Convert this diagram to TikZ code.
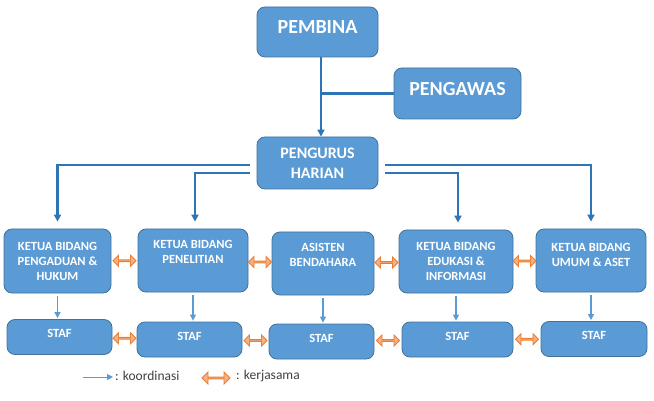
\documentclass[tikz,border=0pt]{standalone}
\usepackage{fontspec}
\setmainfont{Carlito}
\usetikzlibrary{arrows.meta, shapes.arrows, calc}

\definecolor{biru}{HTML}{5B9BD5}
\definecolor{birutepi}{HTML}{41719C}
\definecolor{birugaris}{HTML}{2E75B6}
\definecolor{oranye}{HTML}{F4B183}
\definecolor{oranyetepi}{HTML}{ED7D31}
\definecolor{abu}{HTML}{404040}

\begin{document}
\begin{tikzpicture}[x=1pt, y=-1pt,
    kotak/.style={draw=birutepi, fill=biru, rounded corners=8pt, line width=0.8pt,
        text=white, font=\bfseries, align=center, inner sep=2pt},
    kecil/.style={font=\bfseries\fontsize{12.5}{15}\selectfont},
    garis/.style={draw=birugaris, line width=2.2pt, -{Triangle[length=7pt, width=7pt]}},
    koordinasi/.style={draw=biru, line width=1.3pt, -{Triangle[length=6pt, width=6pt]}},
    kerja/.style={double arrow, draw=oranyetepi, fill=oranye, line width=0.9pt,
        minimum width=11pt, double arrow head extend=2.5pt, inner sep=0pt}]
                \useasboundingbox (0,0) rectangle (654,401);
                
                % Puncak: pembina, pengawas, pengurus harian
                \node[kotak, minimum width=121pt, minimum height=50pt, text depth=9pt, font=\bfseries\fontsize{20}{22}\selectfont] (pembina) at (317.5,32) {PEMBINA};
                \node[kotak, minimum width=127pt, minimum height=51pt, text depth=9pt, font=\bfseries\fontsize{20}{22}\selectfont] (pengawas) at (457.5,93.5) {PENGAWAS};
                \node[kotak, minimum width=121pt, minimum height=52pt, font=\bfseries\fontsize{16}{20}\selectfont] (pengurus) at (317.5,163) {PENGURUS\\HARIAN};
                
                % Jalur pembina ke pengurus, pengawas bergabung
                \coordinate (jalur) at ([xshift=3.5pt]pembina.south);
                \draw[garis] (jalur) -- (jalur |- pengurus.north);
                \draw[draw=birugaris, line width=2.2pt] (pengawas.west) -- (pengawas.west -| jalur);
                
                % Ketua bidang
                \node[kotak, kecil, minimum width=107pt, minimum height=64pt] (k1) at (57.5,261) {KETUA BIDANG\\PENGADUAN \&\\HUKUM};
                \node[kotak, kecil, minimum width=110pt, minimum height=63pt] (k2) at (193,260.5) {KETUA BIDANG\\PENELITIAN\\[3pt]};
                \node[kotak, kecil, minimum width=102pt, minimum height=63pt] (k3) at (323,263.5) {ASISTEN\\BENDAHARA\\[3pt]};
                \node[kotak, kecil, minimum width=114pt, minimum height=63pt] (k4) at (456,261.5) {KETUA BIDANG\\EDUKASI \&\\INFORMASI};
                \node[kotak, kecil, minimum width=110pt, minimum height=63pt] (k5) at (591,260.5) {KETUA BIDANG\\UMUM \& ASET\\[-4pt]};
                
                % Staf
                \foreach \nama/\px/\py/\lebar in {s1/59.5/337/105, s2/189.5/339.5/105, s3/321.5/341.5/105, s4/457.5/339.5/111, s5/594/339/106}
                    \node[kotak, kecil, minimum width=\lebar pt, minimum height=35pt, text depth=7pt] (\nama) at (\px,\py) {STAF};
                
                % Garis dari pengurus harian ke ketua bidang
                \draw[garis, shorten >=7pt] ([xshift=-7pt, yshift=-2pt]pengurus.west) -| (k1.north);
                \draw[garis, shorten >=7pt] ([xshift=-7pt, yshift=-10pt]pengurus.west) -| ([xshift=2pt]k2.north);
                \draw[garis, shorten >=7pt] ([xshift=7pt, yshift=-10pt]pengurus.east) -| ([xshift=2pt]k4.north);
                \draw[garis, shorten >=7pt] ([xshift=7pt, yshift=-2pt]pengurus.east) -| (k5.north);
                
                % Koordinasi ketua ke staf
                \foreach \i in {1,...,5}
                    \draw[koordinasi, shorten <=3pt, shorten >=1pt] (k\i.south) -- (k\i.south |- s\i.north);
                
                % Kerjasama antar kotak
                \foreach \a/\b in {k1/k2, k2/k3, k3/k4, k4/k5, s1/s2, s2/s3, s3/s4, s4/s5}
                    \node[kerja, minimum height=23pt] (kj-\a) at ($(\a.east)!0.5!(\b.west)$) {};
                
                % Keterangan
                \coordinate (leg1) at (83,377);
                \coordinate (leg2) at (113,377);
                \draw[koordinasi, line width=1pt] (leg1) -- (leg2);
                \node[right, text=abu, font=\fontsize{13.5}{15}\selectfont, inner sep=1pt] (ketkoor) at (114,376) {: koordinasi};
                \node[kerja, minimum height=28pt, minimum width=12pt] (legkerja) at (216,378) {};
                \node[right, text=abu, font=\fontsize{13.5}{15}\selectfont, inner sep=1pt] (ketkerja) at (235,376) {: kerjasama};
            \end{tikzpicture}
\end{document}
